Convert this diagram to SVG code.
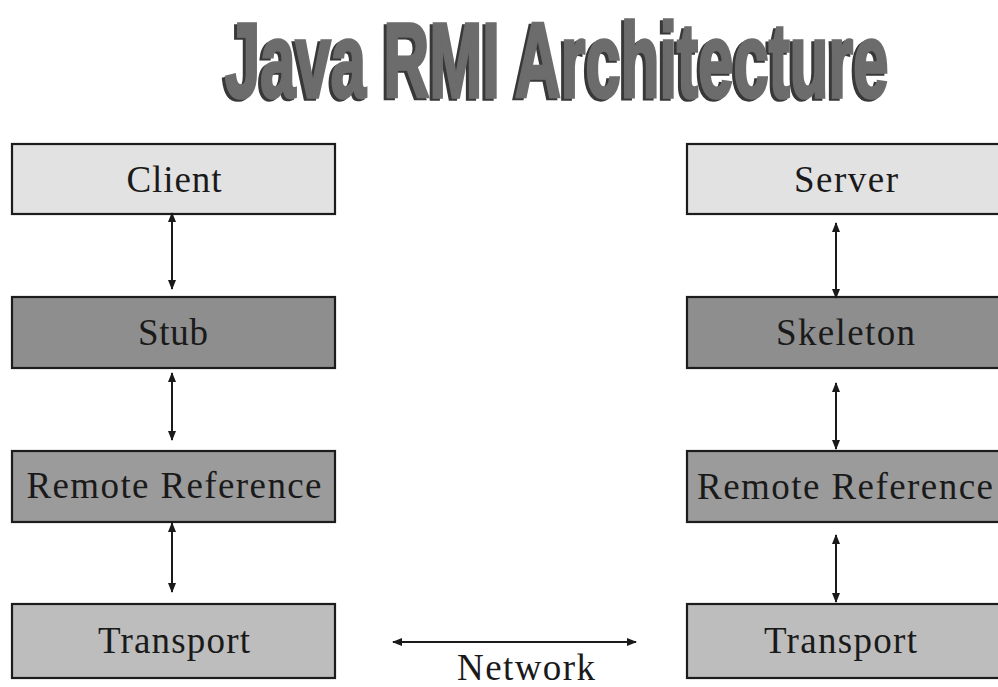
<svg xmlns="http://www.w3.org/2000/svg" width="998" height="687" viewBox="0 0 998 687">
  <defs>
    <marker id="ah" viewBox="0 0 10 8" markerUnits="userSpaceOnUse" markerWidth="10" markerHeight="8" refX="9" refY="4" orient="auto-start-reverse">
      <path d="M0,0 L10,4 L0,8 z" fill="#1a1a1a"/>
    </marker>
    <filter id="shadow" x="-5%" y="-20%" width="110%" height="140%">
      <feOffset in="SourceAlpha" dx="-3.5" dy="2" result="off"/>
      <feFlood flood-color="#383838"/>
      <feComposite in2="off" operator="in" result="sh"/>
      <feMerge>
        <feMergeNode in="sh"/>
        <feMergeNode in="SourceGraphic"/>
      </feMerge>
    </filter>
  </defs>
  <style>
    .box { stroke: #1c1c1c; stroke-width: 2.2; }
    .lt { fill: #e2e2e2; }
    .dk { fill: #8e8e8e; }
    .md { fill: #9b9b9b; }
    .tp { fill: #bdbdbd; }
    .lbl { font-family: "Liberation Serif", "Times New Roman", serif; font-size: 37px; fill: #1a1a1a; text-anchor: middle; }
    .conn { stroke: #1a1a1a; stroke-width: 2; fill: none; marker-start: url(#ah); marker-end: url(#ah); }
    .title { font-family: "Liberation Sans", Arial, sans-serif; font-weight: bold; font-size: 106px; fill: #6c6c6c; stroke: #6c6c6c; stroke-width: 3.5; }
  </style>
  <rect width="998" height="687" fill="#ffffff"/>

  <g id="title" filter="url(#shadow)">
    <text class="title" x="0" y="0" transform="translate(225,97) scale(0.598,1)">Java RMI Architecture</text>
  </g>

  <g id="client">
    <rect class="box lt" x="12" y="144" width="323" height="70"/>
    <text class="lbl" x="174" y="192" textLength="95" lengthAdjust="spacing">Client</text>
  </g>
  <g id="stub">
    <rect class="box dk" x="12" y="297" width="323" height="71"/>
    <text class="lbl" x="173" y="345" textLength="70" lengthAdjust="spacing">Stub</text>
  </g>
  <g id="remote-ref-client">
    <rect class="box md" x="12" y="451" width="323" height="71"/>
    <text class="lbl" x="174" y="498" textLength="295" lengthAdjust="spacing">Remote Reference</text>
  </g>
  <g id="transport-client">
    <rect class="box tp" x="12" y="604" width="323" height="74"/>
    <text class="lbl" x="174" y="653" textLength="152" lengthAdjust="spacing">Transport</text>
  </g>

  <g id="server">
    <rect class="box lt" x="687" y="144" width="320" height="70"/>
    <text class="lbl" x="846" y="192" textLength="104" lengthAdjust="spacing">Server</text>
  </g>
  <g id="skeleton">
    <rect class="box dk" x="687" y="297" width="320" height="71"/>
    <text class="lbl" x="845.5" y="345" textLength="139" lengthAdjust="spacing">Skeleton</text>
  </g>
  <g id="remote-ref-server">
    <rect class="box md" x="687" y="451" width="320" height="71"/>
    <text class="lbl" x="845" y="499" textLength="296" lengthAdjust="spacing">Remote Reference</text>
  </g>
  <g id="transport-server">
    <rect class="box tp" x="687" y="604" width="320" height="74"/>
    <text class="lbl" x="840.5" y="653" textLength="153" lengthAdjust="spacing">Transport</text>
  </g>

  <g id="connectors">
    <line class="conn" x1="172" y1="213" x2="172" y2="289"/>
    <line class="conn" x1="172" y1="373" x2="172" y2="440"/>
    <line class="conn" x1="172" y1="523" x2="172" y2="592"/>
    <line class="conn" x1="836" y1="223" x2="836" y2="298"/>
    <line class="conn" x1="836" y1="383" x2="836" y2="449"/>
    <line class="conn" x1="836" y1="535" x2="836" y2="602"/>
    <line class="conn" x1="393" y1="642" x2="636" y2="642"/>
    <text class="lbl" x="526" y="680" textLength="138" lengthAdjust="spacing">Network</text>
  </g>
</svg>
